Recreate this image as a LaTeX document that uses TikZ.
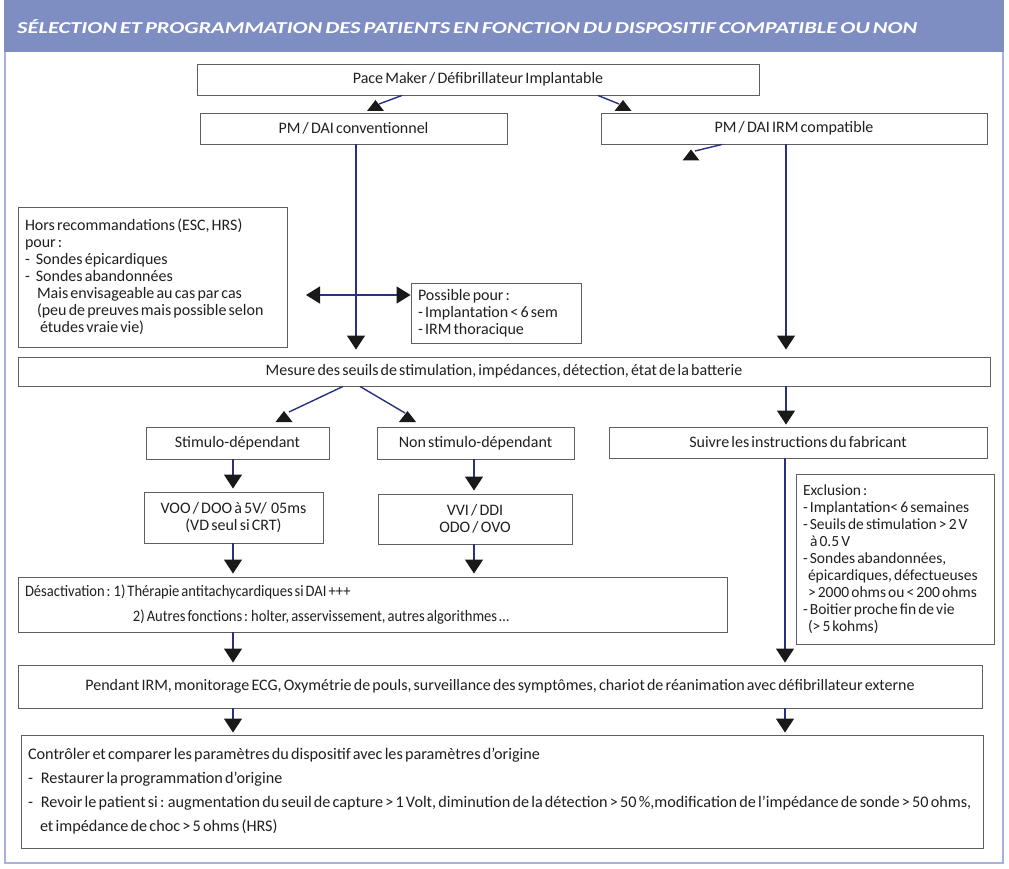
\documentclass[tikz,border=0pt]{standalone}
\usepackage{fontspec}
\setmainfont{Carlito}[WordSpace=0.6]
\newfontfamily\condf{Carlito}[WordSpace=0.6, FakeStretch=0.91]
\usetikzlibrary{arrows.meta,shadows}
\definecolor{navy}{RGB}{40,48,128}
\definecolor{hdr}{RGB}{127,142,194}
\definecolor{framec}{RGB}{168,176,220}
\definecolor{boxgray}{RGB}{95,95,95}
\definecolor{txtc}{RGB}{35,31,32}
\definecolor{tric}{RGB}{25,25,25}
\newcommand\txtf{\fontsize{16}{17}\selectfont}
\begin{document}
\begin{tikzpicture}[x=1pt,y=-1pt,
  box/.style={draw=boxgray, line width=0.9pt, fill=white, inner sep=0pt, font=\txtf, text=txtc,
    drop shadow={shadow xshift=1.3pt, shadow yshift=-1.3pt, fill=black!30, opacity=1}},
  lbox/.style={box, align=flush left, inner xsep=7pt},
  cbox/.style={box, align=center},
  conn/.style={draw=navy, line width=1.4pt},
  arr/.style={-{Triangle[width=18pt,length=14pt,color=tric]}},
  dbl/.style={{Triangle[width=17pt,length=14pt,color=tric]}-{Triangle[width=17pt,length=14pt,color=tric]}},
  uptri/.pic={\fill[tric] (-8.5,5.5) -- (8.5,5.5) -- (0,-5.5) -- cycle;}
]
\useasboundingbox (0,0) rectangle (1009,869);
% frame and header
\draw[framec, line width=1.5pt] (5,0) rectangle (1003,863);
\fill[hdr] (4.25,0) rectangle (1003.75,52);
\node[anchor=base west, inner sep=0pt, text=white] (title) at (17,34)
  {\resizebox{900pt}{14pt}{\bfseries\itshape SÉLECTION ET PROGRAMMATION DES PATIENTS EN FONCTION DU DISPOSITIF COMPATIBLE OU NON}};

% boxes
\node[cbox, minimum width=562pt, minimum height=31pt] (pm) at (478,79.5) {Pace Maker / Défibrillateur Implantable};
\node[cbox, minimum width=307pt, minimum height=31pt] (conv) at (353.5,128.5) {PM / DAI conventionnel};
\node[cbox, minimum width=386pt, minimum height=31pt] (irm) at (794,128.5) {PM / DAI IRM compatible};

\node[lbox, text width=255pt, minimum height=140pt] (hors) at (152.5,277) {Hors recommandations (ESC, HRS)\\
pour :\\
-\hspace{6pt}Sondes épicardiques\\
-\hspace{6pt}Sondes abandonnées\\
\hspace*{12pt}Mais envisageable au cas par cas\\
\hspace*{12pt}(peu de preuves mais possible selon\\
\hspace*{15pt}études vraie vie)};

\node[lbox, text width=156pt, minimum height=60pt] (poss) at (496,313) {Possible pour :\\
- Implantation < 6 sem\\
- IRM thoracique};

\node[cbox, minimum width=972pt, minimum height=29pt] (mes) at (504,371.5) {Mesure des seuils de stimulation, impédances, détection, état de la batterie};

\node[cbox, minimum width=183pt, minimum height=32pt] (stim) at (237.5,443) {Stimulo-dépendant};
\node[cbox, minimum width=197pt, minimum height=32pt] (nstim) at (475.5,443) {Non stimulo-dépendant};
\node[cbox, minimum width=378pt, minimum height=31pt] (suiv) at (798,442.5) {Suivre les instructions du fabricant};

\node[cbox, minimum width=179pt, minimum height=51pt] (voo) at (233.5,517.5) {VOO / DOO à 5V/\ \ 05ms\\(VD seul si CRT)};
\node[cbox, minimum width=194pt, minimum height=50pt] (vvi) at (475,519) {VVI / DDI\\ODO / OVO};

\node[lbox, text width=184pt, minimum height=170pt, font=\fontsize{15.5}{17}\selectfont] (excl) at (895,559) {Exclusion :\\
- Implantation< 6 semaines\\
- Seuils de stimulation > 2 V\\
\hspace*{7pt}à 0.5 V\\
- Sondes abandonnées,\\
\hspace*{5pt}épicardiques, défectueuses\\
\hspace*{5pt}> 2000 ohms ou < 200 ohms\\
- Boitier proche fin de vie\\
\hspace*{5pt}(> 5 kohms)};

\node[lbox, text width=695pt, minimum height=55pt, font=\condf\fontsize{16}{25}\selectfont] (desa) at (372.5,604.5) {Désactivation : 1) Thérapie antitachycardiques si DAI +++\\
\hspace*{108pt}2) Autres fonctions : holter, asservissement, autres algorithmes …};

\node[cbox, minimum width=964pt, minimum height=43pt] (pend) at (500,686.5) {Pendant IRM, monitorage ECG, Oxymétrie de pouls, surveillance des symptômes, chariot de réanimation avec défibrillateur externe};

\node[lbox, text width=948pt, minimum height=113pt, font=\fontsize{16.2}{24}\selectfont] (ctrl) at (502,791.5) {Contrôler et comparer les paramètres du dispositif avec les paramètres d’origine\\
-\hspace{8pt}Restaurer la programmation d’origine\\
-\hspace{8pt}Revoir le patient si : augmentation du seuil de capture > 1 Volt, diminution de la détection > 50 \%,modification de l’impédance de sonde > 50 ohms,\\
\hspace*{12pt}et impédance de choc > 5 ohms (HRS)};

% free-end coordinates
\coordinate (t1) at (379,104);
\coordinate (t2) at (619,104);
\coordinate (t3) at (695,151);
\coordinate (t4) at (289,412);
\coordinate (t5) at (405,413);
\coordinate (dl) at (306,295);

% odd upward triangles
\draw[conn] ([xshift=-76pt]pm.south) -- (t1);
\pic at (375.5,105.5) {uptri};
\draw[conn] ([xshift=120pt]pm.south) -- (t2);
\pic at (623,105.5) {uptri};
\draw[conn] ([xshift=-72pt]irm.south) -- (t3);
\pic at (691,155) {uptri};
\draw[conn] ([xshift=-161pt]mes.south) -- (t4);
\pic at (284,416.5) {uptri};
\draw[conn] ([xshift=-144pt]mes.south) -- (t5);
\pic at (407.5,416.5) {uptri};

% vertical connectors
\draw[conn,arr] ([xshift=2.5pt]conv.south) -- ([xshift=-148pt,yshift=7pt]mes.north);
\draw[conn,dbl] (dl) -- ([yshift=18pt]poss.west);
\draw[conn,arr] ([xshift=-8pt]irm.south) -- ([xshift=282pt,yshift=7pt]mes.north);
\draw[conn,arr] ([xshift=282pt]mes.south) -- ([xshift=-12pt,yshift=2pt]suiv.north);
\draw[conn,arr] ([xshift=-4.5pt]stim.south) -- ([xshift=-0.5pt,yshift=3pt]voo.north);
\draw[conn,arr] ([xshift=-1.5pt]nstim.south) -- ([xshift=-1pt,yshift=3pt]vvi.north);
\draw[conn,arr] ([xshift=-0.5pt]voo.south) -- ([xshift=-139.5pt,yshift=3pt]desa.north);
\draw[conn,arr] ([xshift=-1pt]vvi.south) -- ([xshift=101.5pt,yshift=3pt]desa.north);
\draw[conn,arr] ([xshift=-139.5pt]desa.south) -- ([xshift=-267pt,yshift=2pt]pend.north);
\draw[conn,arr] ([xshift=-13pt]suiv.south) -- ([xshift=285pt,yshift=2pt]pend.north);
\draw[conn,arr] ([xshift=-267pt]pend.south) -- ([xshift=-269pt,yshift=2pt]ctrl.north);
\draw[conn,arr] ([xshift=285pt]pend.south) -- ([xshift=283pt,yshift=2pt]ctrl.north);
\end{tikzpicture}
\end{document}
